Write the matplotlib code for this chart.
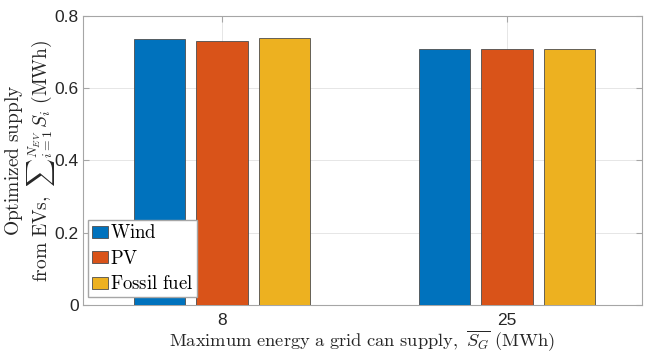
import numpy as np
import matplotlib
matplotlib.use('Agg')
import matplotlib.pyplot as plt

# data
grid_caps = ['8', '25']
series = ['Wind', 'PV', 'Fossil fuel']
wind = [0.736, 0.708]
pv = [0.730, 0.709]
fossil = [0.738, 0.708]
colors = ['#0072BD', '#D95319', '#EDB120']

plt.rcParams['mathtext.fontset'] = 'cm'
plt.rcParams['font.family'] = ['Liberation Sans', 'DejaVu Sans']

fig = plt.figure(figsize=(6.47, 3.53), dpi=100)
ax = fig.add_axes([83 / 647, 48 / 353, 559 / 647, 289 / 353])

x = np.arange(1, len(grid_caps) + 1)
width = 0.18
offset = 0.22
for i, (vals, name) in enumerate(zip([wind, pv, fossil], series)):
    ax.bar(x + (i - 1) * offset, vals, width, color=colors[i],
           edgecolor='#4d4d4d', linewidth=0.6, label=name, zorder=3)

ax.set_xlim(0.512, 2.474)
ax.set_ylim(0, 0.8)
ax.set_xticks(x)
ax.set_xticklabels(grid_caps)
ax.set_yticks([0, 0.2, 0.4, 0.6, 0.8])
ax.set_yticklabels(['0', '0.2', '0.4', '0.6', '0.8'])

ax.grid(True, color='#e6e6e6', linewidth=0.7, zorder=0)
for s in ax.spines.values():
    s.set_color('#a6a6a6')
    s.set_linewidth(0.8)
ax.tick_params(direction='in', top=True, right=True, length=4,
               color='#a6a6a6', labelcolor='#262626', labelsize=12.5)
ax.tick_params(axis='x', pad=6)
ax.tick_params(axis='y', pad=3)

ax.set_xlabel(r'$\mathrm{Maximum\ energy\ a\ grid\ can\ supply,}\ \overline{S_G}\ \mathrm{(MWh)}$',
              fontsize=13.3, color='#262626')
ax.xaxis.set_label_coords(0.5, -0.082)
ax.set_ylabel('$\\mathrm{Optimized\\ supply}$\n'
              r'$\mathrm{from\ EVs,}\ \sum{}_{i=1}^{N_{EV}}\,S_i\ \mathrm{(MWh)}$',
              fontsize=14, color='#262626', linespacing=1.0)
ax.yaxis.set_label_coords(-0.047, 0.5)

leg = ax.legend(loc='lower left', bbox_to_anchor=(0.009, 0.028), fancybox=False,
                edgecolor='#a6a6a6', framealpha=1, prop={'family': 'serif', 'size': 13.5},
                handlelength=0.85, handleheight=0.6, handletextpad=0.1,
                borderpad=0.2, labelspacing=0.4, borderaxespad=0)
for t in leg.get_texts():
    t.set_text('$\\mathrm{' + t.get_text().replace(' ', '\\ ') + '}$')

fig.savefig('out.png', dpi=100)
